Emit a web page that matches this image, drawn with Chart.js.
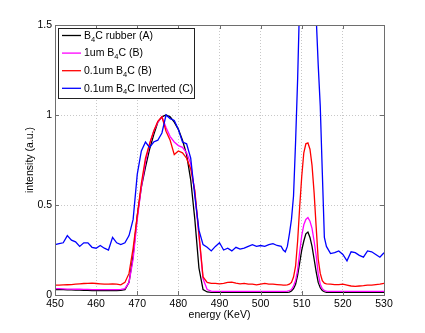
<!DOCTYPE html>
<html>
<head>
<meta charset="utf-8">
<script src="https://cdn.jsdelivr.net/npm/chart.js@4.4.1/dist/chart.umd.min.js"></script>
<style>
  html, body { margin: 0; padding: 0; background: #fff; }
  #wrap { width: 425px; height: 333px; }
</style>
</head>
<body>
<div id="wrap"><canvas id="spectrum" width="425" height="333"></canvas></div>
<script>
// energy (KeV) - half steps around the 511 peak
var energy = [
  450, 451, 452, 453, 454, 455, 456, 457, 458, 459,
  460, 461, 462, 463, 464, 465, 466, 467, 468, 469,
  470, 471, 472, 473, 474, 475, 476, 477, 478, 479,
  480, 481, 482, 483, 484, 485, 486, 487, 488, 489,
  490, 491, 492, 493, 494, 495, 496, 497, 498, 499,
  500, 501, 502, 503, 504, 505,
  505.5, 506, 506.5, 507, 507.5, 508, 508.5, 509, 509.5, 510, 510.5,
  511, 511.5, 512, 512.5, 513, 513.5, 514, 514.5, 515, 515.5, 516,
  517, 518, 519, 520, 521, 522, 523, 524, 525, 526, 527, 528, 529, 530
];

var rubberA = [
  0.03, 0.03, 0.03, 0.028, 0.028, 0.027, 0.027, 0.026, 0.026, 0.025,
  0.025, 0.025, 0.024, 0.024, 0.024, 0.025, 0.026, 0.03, 0.07, 0.22,
  0.44, 0.6, 0.71, 0.81, 0.89, 0.96, 0.99, 1.0, 0.99, 0.96,
  0.92, 0.86, 0.78, 0.64, 0.42, 0.15, 0.03, 0.017, 0.015, 0.015,
  0.015, 0.015, 0.015, 0.015, 0.015, 0.015, 0.015, 0.015, 0.015, 0.015,
  0.015, 0.015, 0.015, 0.015, 0.015, 0.015,
  0.015, 0.015, 0.015, 0.016, 0.022, 0.035, 0.06, 0.11, 0.18, 0.25, 0.3,
  0.34, 0.35, 0.32, 0.27, 0.2, 0.13, 0.07, 0.04, 0.025, 0.018, 0.015,
  0.015, 0.015, 0.015, 0.015, 0.015, 0.015, 0.015, 0.015, 0.015, 0.015, 0.015, 0.015, 0.015, 0.015
];

var oneUmB = [
  0.035, 0.035, 0.034, 0.033, 0.033, 0.032, 0.032, 0.031, 0.031, 0.03,
  0.03, 0.03, 0.03, 0.03, 0.03, 0.03, 0.031, 0.035, 0.07, 0.2,
  0.42, 0.6, 0.74, 0.84, 0.91, 0.96, 0.99, 0.93, 0.88, 0.85,
  0.83, 0.82, 0.79, 0.73, 0.57, 0.33, 0.09, 0.03, 0.022, 0.02,
  0.02, 0.02, 0.02, 0.02, 0.02, 0.02, 0.02, 0.02, 0.02, 0.02,
  0.02, 0.02, 0.02, 0.02, 0.02, 0.02,
  0.02, 0.02, 0.021, 0.025, 0.03, 0.05, 0.08, 0.14, 0.24, 0.33, 0.39,
  0.42, 0.43, 0.41, 0.37, 0.3, 0.22, 0.12, 0.06, 0.035, 0.025, 0.021,
  0.02, 0.02, 0.02, 0.02, 0.02, 0.02, 0.02, 0.02, 0.02, 0.02, 0.02, 0.02, 0.02, 0.02
];

var tenthUmB = [
  0.055, 0.055, 0.056, 0.057, 0.058, 0.06, 0.062, 0.064, 0.065, 0.066,
  0.064, 0.062, 0.06, 0.06, 0.062, 0.06, 0.056, 0.07, 0.12, 0.26,
  0.44, 0.62, 0.76, 0.84, 0.91, 0.965, 0.99, 0.91, 0.86, 0.78,
  0.8, 0.79, 0.76, 0.7, 0.58, 0.34, 0.1, 0.07, 0.065, 0.065,
  0.062, 0.065, 0.07, 0.072, 0.066, 0.062, 0.065, 0.06, 0.06, 0.056,
  0.06, 0.064, 0.06, 0.06, 0.058, 0.056,
  0.055, 0.055, 0.056, 0.06, 0.07, 0.1, 0.16, 0.3, 0.49, 0.66, 0.79,
  0.84, 0.845, 0.81, 0.72, 0.57, 0.38, 0.2, 0.12, 0.08, 0.066, 0.062,
  0.06, 0.058, 0.058, 0.06, 0.055, 0.05, 0.048, 0.05, 0.052, 0.055, 0.055, 0.058, 0.06, 0.065
];

var tenthUmInvC = [
  0.28, 0.285, 0.29, 0.33, 0.305, 0.295, 0.27, 0.29, 0.29, 0.265,
  0.26, 0.275, 0.26, 0.25, 0.32, 0.29, 0.28, 0.29, 0.33, 0.42,
  0.67, 0.8, 0.85, 0.82, 0.85, 0.86, 0.9, 1.0, 0.98, 0.97,
  0.92, 0.85, 0.84, 0.76, 0.55, 0.36, 0.28, 0.265, 0.245, 0.27,
  0.29, 0.25, 0.26, 0.245, 0.265, 0.255, 0.26, 0.27, 0.28, 0.27,
  0.275, 0.27, 0.28, 0.285, 0.275, 0.27,
  0.25, 0.24, 0.27, 0.34, 0.42, 0.55, 0.85, 1.2, 1.65, 2.0, 2.3,
  2.45, 2.45, 2.3, 2.05, 1.8, 1.55, 1.28, 1.05, 0.68, 0.32, 0.27,
  0.23, 0.235, 0.245, 0.225, 0.19, 0.24, 0.235, 0.22, 0.21, 0.245, 0.24, 0.225, 0.21, 0.235
];

var xTicks = [450, 460, 470, 480, 490, 500, 510, 520, 530];
var yTicks = [0, 0.5, 1, 1.5];

// legend text split as [before, subscript, after]
var legendLabels = [
  ['B', '4', 'C rubber (A)'],
  ['1um B', '4', 'C (B)'],
  ['0.1um B', '4', 'C (B)'],
  ['0.1um B', '4', 'C Inverted (C)']
];

var FONT = "'Liberation Sans', Arial, Helvetica, sans-serif";
var axisColor = '#6e6e6e';
var gridColor = '#c8c8c8';

function points(ys) {
  return energy.map(function(e, i) { return { x: e, y: ys[i] }; });
}

function line(label, ys, color, order) {
  return {
    label: label,
    data: points(ys),
    borderColor: color,
    backgroundColor: color,
    borderWidth: 1.3,
    pointRadius: 0,
    tension: 0,
    fill: false,
    order: order
  };
}

// MATLAB-like box, inward ticks and the legend
var matlabAxes = {
  id: 'matlabAxes',
  afterDraw: function(chart) {
    var ctx = chart.ctx;
    var a = chart.chartArea;
    var xs = chart.scales.x, ys = chart.scales.y;
    ctx.save();
    ctx.strokeStyle = axisColor;
    ctx.lineWidth = 1;
    ctx.beginPath();
    xTicks.forEach(function(t) {
      var px = Math.round(xs.getPixelForValue(t)) + 0.5;
      ctx.moveTo(px, a.bottom); ctx.lineTo(px, a.bottom - 4);
      ctx.moveTo(px, a.top); ctx.lineTo(px, a.top + 4);
    });
    yTicks.forEach(function(t) {
      var py = Math.round(ys.getPixelForValue(t)) + 0.5;
      ctx.moveTo(a.left, py); ctx.lineTo(a.left + 4, py);
      ctx.moveTo(a.right, py); ctx.lineTo(a.right - 4, py);
    });
    ctx.stroke();
    ctx.strokeRect(a.left + 0.5, a.top + 0.5, a.right - a.left, a.bottom - a.top);

    // legend
    var lx = a.left + 3, ly = a.top + 3, lw = 136, lh = 70;
    ctx.fillStyle = '#fff';
    ctx.fillRect(lx, ly, lw, lh);
    ctx.strokeStyle = '#222';
    ctx.strokeRect(lx + 0.5, ly + 0.5, lw, lh);
    var main = '10.5px ' + FONT, sub = '7.5px ' + FONT;
    chart.data.datasets.forEach(function(ds, i) {
      var cy = ly + 7.5 + i * 17.6;
      ctx.strokeStyle = ds.borderColor;
      ctx.lineWidth = 1.3;
      ctx.beginPath();
      ctx.moveTo(lx + 4, cy); ctx.lineTo(lx + 23, cy);
      ctx.stroke();
      var parts = legendLabels[i];
      var tx = lx + 26;
      ctx.fillStyle = '#000';
      ctx.textBaseline = 'middle';
      ctx.textAlign = 'left';
      ctx.font = main;
      ctx.fillText(parts[0], tx, cy + 0.5);
      tx += ctx.measureText(parts[0]).width;
      ctx.font = sub;
      ctx.fillText(parts[1], tx, cy + 4);
      tx += ctx.measureText(parts[1]).width;
      ctx.font = main;
      ctx.fillText(parts[2], tx, cy + 0.5);
    });
    ctx.restore();
  }
};

function gridFor(edges) {
  return {
    drawTicks: false,
    lineWidth: 1,
    color: function(c) {
      if (c.tick && edges.indexOf(c.tick.value) >= 0) return 'rgba(0,0,0,0)';
      return gridColor;
    }
  };
}

Chart.defaults.font.family = FONT;
Chart.defaults.font.size = 10.5;
Chart.defaults.color = '#000';

new Chart(document.getElementById('spectrum'), {
  type: 'line',
  data: {
    datasets: [
      line('B4C rubber (A)', rubberA, '#000000', 4),
      line('1um B4C (B)', oneUmB, '#ff00ff', 3),
      line('0.1um B4C (B)', tenthUmB, '#ff0000', 2),
      line('0.1um B4C Inverted (C)', tenthUmInvC, '#0000ff', 1)
    ]
  },
  options: {
    responsive: false,
    animation: false,
    devicePixelRatio: 1,
    layout: { padding: { top: 25, right: 41, left: 0, bottom: 0 } },
    plugins: {
      legend: { display: false },
      tooltip: { enabled: false }
    },
    scales: {
      x: {
        type: 'linear',
        min: 450,
        max: 530,
        afterFit: function(s) { s.height = 38; },
        afterBuildTicks: function(s) { s.ticks = xTicks.map(function(v) { return { value: v }; }); },
        ticks: { padding: 2.7, maxRotation: 0, font: { size: 10.5 },
                 callback: function(v) { return String(v); } },
        grid: gridFor([450, 530]),
        border: { display: false, dash: [1, 2] },
        title: { display: true, text: 'energy (KeV)', padding: { top: 0, bottom: 11.7 }, font: { size: 10.5 } }
      },
      y: {
        min: 0,
        max: 1.5,
        afterFit: function(s) { s.width = 55; },
        afterBuildTicks: function(s) { s.ticks = yTicks.map(function(v) { return { value: v }; }); },
        ticks: { padding: 3, font: { size: 10.5 },
                 callback: function(v) { return String(v); } },
        grid: gridFor([0, 1.5]),
        border: { display: false, dash: [1, 2] },
        title: { display: true, text: 'intensity (a.u.)', padding: { top: 23.7, bottom: 0 }, font: { size: 10.5 } }
      }
    }
  },
  plugins: [matlabAxes]
});
</script>
</body>
</html>
